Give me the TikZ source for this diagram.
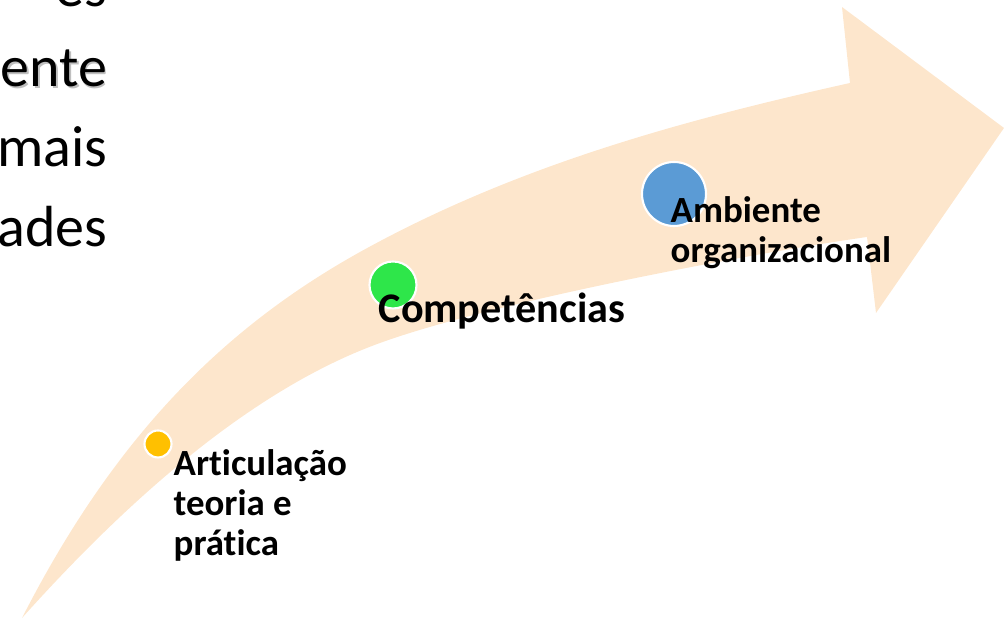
\documentclass[tikz,border=0pt]{standalone}
\usepackage{fontspec}
\setmainfont[Ligatures=NoCommon]{Carlito}
\usetikzlibrary{arrows}
\definecolor{seta}{RGB}{253,230,204}
\definecolor{amarelo}{RGB}{255,192,0}
\definecolor{verde}{RGB}{46,230,74}
\definecolor{azul}{RGB}{91,155,213}

\begin{document}
\begin{tikzpicture}[scale=1,
  ponto/.style={circle,draw=white,line width=0.6pt,inner sep=0pt},
  etapa/.style={inner sep=0pt,anchor=base west,align=left,
    font=\fontsize{10.5}{11.4}\selectfont\bfseries},
  corpo/.style={inner sep=0pt,anchor=base east,font=\fontsize{16.5}{19}\selectfont}]
  \useasboundingbox (0,0) rectangle (10.04,-6.19);

  % seta curva
  \coordinate (C) at (0.22,-6.18); \coordinate (M) at (3.60,-2.52);
  \coordinate (B) at (8.50,-0.83); \coordinate (P) at (8.42,-0.07);
  \coordinate (T) at (10.04,-1.28); \coordinate (Q) at (8.76,-3.13);
  \coordinate (D) at (8.67,-2.37); \coordinate (N) at (3.80,-3.43);
  \fill[seta] (C) .. controls (1.13,-4.40) and (2.20,-3.30) .. (M)
    .. controls (5.17,-1.65) and (6.84,-1.20) .. (B)
    -- (P) -- (T) -- (Q) -- (D)
    .. controls (7.48,-2.54) and (4.93,-3.02) .. (N)
    .. controls (2.39,-3.94) and (1.09,-5.21) .. (C) -- cycle;

  % texto cortado
  \node[corpo] (l1) at (1.08,-0.07) {es};
  \node[corpo,text=black!25] (l2s) at (1.095,-0.885) {ente};
  \node[corpo] (l2) at (1.08,-0.87) {ente};
  \node[corpo] (l3) at (1.08,-1.67) {mais};
  \node[corpo] (l4) at (1.08,-2.47) {ades};

  % etapas
  \node[ponto,fill=amarelo,minimum size=0.27cm] (p1) at (1.58,-4.44) {};
  \node[ponto,fill=verde,minimum size=0.47cm] (p2) at (3.93,-2.85) {};
  \node[ponto,fill=azul,minimum size=0.64cm] (p3) at (6.74,-1.94) {};
  \node[etapa] (t1) at (1.73,-5.56) {Articulação\\teoria e\\prática};
  \node[etapa,font=\fontsize{12}{14}\selectfont\bfseries] (t2) at (3.78,-3.23) {Competências};
  \node[etapa] (t3) at (6.70,-2.63) {Ambiente\\organizacional};
\end{tikzpicture}
\end{document}
